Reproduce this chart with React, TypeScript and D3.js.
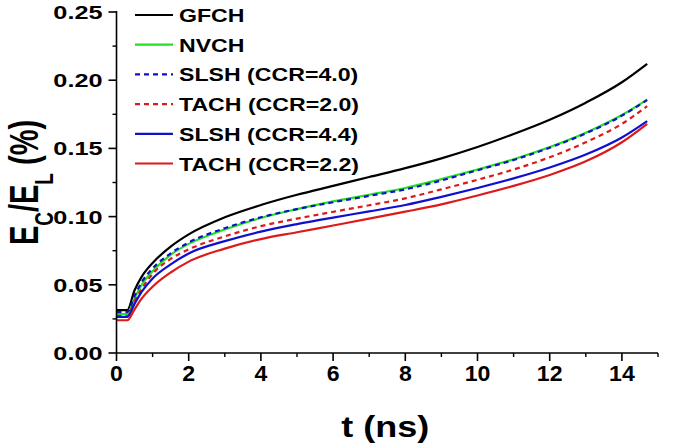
import React from "react";
import * as d3 from "d3";

const times = [0, 0.3, 0.5, 0.7, 1, 1.5, 2, 3, 4, 5, 6, 7, 8, 9, 10, 11, 12, 13, 14, 14.7];
const gfch = [0.0315, 0.0315, 0.046, 0.056, 0.066, 0.078, 0.087, 0.0995, 0.1085, 0.116, 0.1225, 0.129, 0.1355, 0.1427, 0.151, 0.1605, 0.171, 0.1835, 0.1985, 0.212];
const nvch = [0.0286, 0.0286, 0.04, 0.05, 0.06, 0.072, 0.08, 0.0905, 0.099, 0.1055, 0.1112, 0.116, 0.121, 0.1275, 0.1345, 0.142, 0.151, 0.1615, 0.1745, 0.1858];
const slsh40 = [0.03, 0.03, 0.042, 0.052, 0.062, 0.073, 0.081, 0.0915, 0.0995, 0.1055, 0.1105, 0.1152, 0.12, 0.1265, 0.134, 0.1415, 0.1505, 0.161, 0.174, 0.1855];
const tach20 = [0.027, 0.027, 0.038, 0.047, 0.058, 0.069, 0.076, 0.0855, 0.093, 0.0985, 0.1035, 0.1083, 0.1134, 0.12, 0.127, 0.1345, 0.1435, 0.1545, 0.168, 0.181];
const slsh44 = [0.0265, 0.0265, 0.036, 0.045, 0.0547, 0.065, 0.073, 0.082, 0.089, 0.0945, 0.0993, 0.1038, 0.1085, 0.1145, 0.121, 0.128, 0.136, 0.1455, 0.158, 0.17];
const tach22 = [0.024, 0.024, 0.032, 0.04, 0.0486, 0.059, 0.067, 0.0765, 0.0835, 0.0885, 0.0935, 0.0985, 0.1036, 0.109, 0.1155, 0.1225, 0.1305, 0.1405, 0.1545, 0.168];

const seriesNames = ["GFCH", "NVCH", "SLSH (CCR=4.0)", "TACH (CCR=2.0)", "SLSH (CCR=4.4)", "TACH (CCR=2.2)"];
const seriesValues = [gfch, nvch, slsh40, tach20, slsh44, tach22];
const seriesColors = ["#000000", "#22e022", "#1010cc", "#dd1a1a", "#1010cc", "#dd1a1a"];
const seriesDashed = [false, false, true, true, false, false];

const xTicks = [0, 2, 4, 6, 8, 10, 12, 14];
const xMinor = [1, 3, 5, 7, 9, 11, 13, 15];
const yTicks = [0, 0.05, 0.1, 0.15, 0.2, 0.25];
const yMinor = [0.025, 0.075, 0.125, 0.175, 0.225];

const W = 675, H = 446;
const FONT = "'Liberation Sans', Arial, sans-serif";

export default function App() {
  const x = d3.scaleLinear().domain([0, 15]).range([116.5, 658]);
  const y = d3.scaleLinear().domain([0, 0.25]).range([353, 12]);
  const line = d3.line<[number, number]>()
    .x(d => x(d[0]))
    .y(d => y(d[1]))
    .curve(d3.curveMonotoneX);
  const x0 = x(0), y0 = y(0);
  const order = [0, 1, 2, 3, 4, 5];
  return (
    <svg width={W} height={H} style={{ position: "absolute", left: 0, top: 0, background: "#fff" }}>
      <rect width={W} height={H} fill="#fff" />
      {order.map(i => (
        <path key={i}
          d={line(times.map((t, k) => [t, seriesValues[i][k]] as [number, number])) || ""}
          fill="none" stroke={seriesColors[i]} strokeWidth={2.2}
          strokeDasharray={seriesDashed[i] ? "5,4" : undefined} />
      ))}
      {/* axes */}
      <line x1={x0} x2={x0} y1={y(0.25) - 1} y2={y0} stroke="#000" strokeWidth={1.6} />
      <line x1={x0} x2={x(15)} y1={y0} y2={y0} stroke="#000" strokeWidth={1.6} />
      {yTicks.map(v => (
        <g key={"yt" + v}>
          <line x1={x0 - 8} x2={x0} y1={y(v)} y2={y(v)} stroke="#000" strokeWidth={1.6} />
          <text transform={`translate(${x0 - 14},${y(v) + 7}) scale(1.33,1)`} textAnchor="end"
            fontFamily={FONT} fontWeight="bold" fontSize={19}>{v.toFixed(2)}</text>
        </g>
      ))}
      {yMinor.map(v => (
        <line key={"ym" + v} x1={x0 - 4} x2={x0} y1={y(v)} y2={y(v)} stroke="#000" strokeWidth={1.4} />
      ))}
      {xTicks.map(v => (
        <g key={"xt" + v}>
          <line x1={x(v)} x2={x(v)} y1={y0} y2={y0 + 8} stroke="#000" strokeWidth={1.6} />
          <text transform={`translate(${x(v)},${y0 + 28}) scale(1.05,1)`} textAnchor="middle"
            fontFamily={FONT} fontWeight="bold" fontSize={22}>{v}</text>
        </g>
      ))}
      {xMinor.map(v => (
        <line key={"xm" + v} x1={x(v)} x2={x(v)} y1={y0} y2={y0 + 4} stroke="#000" strokeWidth={1.4} />
      ))}
      {/* axis titles */}
      <text transform={`translate(${(x(0) + x(15)) / 2 - 2},${437}) scale(1.2,1)`} textAnchor="middle"
        fontFamily={FONT} fontWeight="bold" fontSize={30}>t (ns)</text>
      <text transform={`translate(${38},${y(0.125)}) scale(1.4,1) rotate(-90)`} textAnchor="middle"
        fontFamily={FONT} fontWeight="bold" fontSize={29}>
        E<tspan baselineShift="sub" fontSize={19}>C</tspan><tspan>/E</tspan><tspan baselineShift="sub" fontSize={19}>L</tspan><tspan> (%)</tspan>
      </text>
      {/* legend */}
      {seriesNames.map((name, i) => {
        const ly = 15 + i * 29.7;
        return (
          <g key={"lg" + i}>
            <line x1={135} x2={173} y1={ly} y2={ly} stroke={seriesColors[i]} strokeWidth={2.2}
              strokeDasharray={seriesDashed[i] ? "5,4" : undefined} />
            <text transform={`translate(${179},${ly + 7}) scale(1.25,1)`} fontFamily={FONT}
              fontWeight="bold" fontSize={18.5}>{name}</text>
          </g>
        );
      })}
    </svg>
  );
}
